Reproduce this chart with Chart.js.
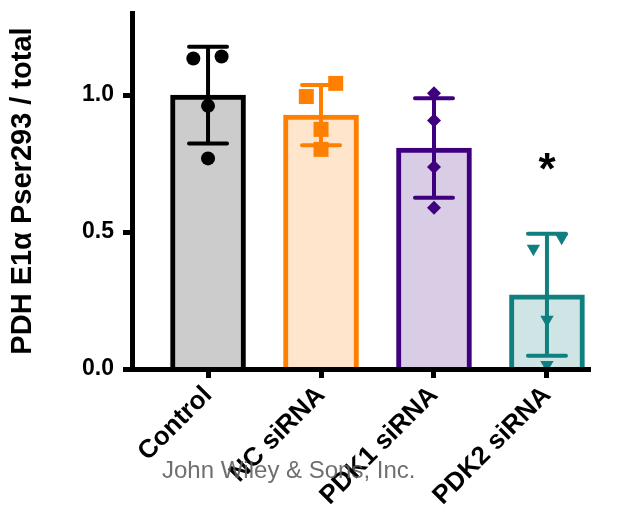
<!DOCTYPE html>
<html><head><meta charset="utf-8">
<script src="https://cdn.jsdelivr.net/npm/chart.js@4/dist/chart.umd.min.js"></script>
<style>html,body{margin:0;padding:0;background:#fff}#wrap{width:618px;height:514px;position:relative}</style>
</head><body><div id="wrap"><canvas id="c"></canvas></div>
<script>
// ---- data ----
const categories = ['Control', 'NC siRNA', 'PDK1 siRNA', 'PDK2 siRNA'];
const means = [1.00, 0.927, 0.807, 0.271];
const sds = [0.177, 0.110, 0.182, 0.223];
const controlPoints = [1.134, 1.141, 0.961, 0.769];
const ncPoints = [0.995, 1.043, 0.875, 0.802];
const pdk1Points = [1.007, 0.907, 0.738, 0.589];
const pdk2Points = [0.440, 0.480, 0.180, 0.015];
const pointSpread = [[-0.13, 0.12, 0, 0], [-0.13, 0.13, 0, 0], [0, 0, 0, 0], [-0.12, 0.13, 0, 0]];
const yTicks = [0, 0.5, 1.0];
const significance = ['', '', '', '*'];
const yTitle = 'PDH E1\u03b1 Pser293 / total';
const watermark = 'John Wiley & Sons, Inc.';

// ---- styles ----
const FONT = '"Liberation Sans", Arial, sans-serif';
const borders = ['#000000', '#FF8000', '#3F007F', '#107F7F'];
const fills = ['#CCCCCC', '#FFE5CC', '#D9CCE5', '#CFE5E5'];
const styles = [
  {pointStyle: 'circle', radius: 7, rotation: 0},
  {pointStyle: 'rect', radius: 10.6, rotation: 0},
  {pointStyle: 'rectRot', radius: 7, rotation: 0},
  {pointStyle: 'triangle', radius: 7.7, rotation: 180}
];
const groups = [controlPoints, ncPoints, pdk1Points, pdk2Points];

const overlay = {
  id: 'overlay',
  afterDatasetDraw(chart, args) {
    if (args.index !== 0) return;
    const ctx = chart.ctx, xs = chart.scales.x, ys = chart.scales.y;
    ctx.save();
    means.forEach((m, i) => {
      const x = xs.getPixelForValue(i);
      const yt = ys.getPixelForValue(m + sds[i]);
      const yb = ys.getPixelForValue(m - sds[i]);
      ctx.strokeStyle = borders[i];
      ctx.lineWidth = 4;
      ctx.lineCap = 'butt';
      ctx.beginPath(); ctx.moveTo(x, yt); ctx.lineTo(x, yb); ctx.stroke();
      ctx.lineCap = 'round';
      ctx.beginPath(); ctx.moveTo(x - 19, yt); ctx.lineTo(x + 19, yt);
      ctx.moveTo(x - 19, yb); ctx.lineTo(x + 19, yb); ctx.stroke();
    });
    ctx.restore();
  },
  afterDraw(chart) {
    const ctx = chart.ctx, xs = chart.scales.x, ys = chart.scales.y;
    ctx.save();
    ctx.fillStyle = '#000';
    ctx.font = 'bold 44px ' + FONT;
    ctx.textAlign = 'center';
    ctx.textBaseline = 'alphabetic';
    significance.forEach((s, i) => {
      if (!s) return;
      ctx.fillText(s, xs.getPixelForValue(i), ys.getPixelForValue(0.675));
    });
    ctx.font = '24px ' + FONT;
    ctx.fillStyle = 'rgba(95,95,95,0.9)';
    ctx.textAlign = 'left';
    ctx.fillText(watermark, 162, 478);
    ctx.restore();
  }
};

const datasets = [{
  type: 'bar',
  data: means.map((m, i) => ({x: i, y: m})),
  backgroundColor: fills,
  borderColor: borders,
  borderWidth: 5,
  borderSkipped: 'start',
  barThickness: 75,
  order: 2
}];
groups.forEach((g, gi) => {
  datasets.push({
    type: 'scatter',
    data: g.map((v, j) => ({x: gi + pointSpread[gi][j], y: v})),
    pointStyle: styles[gi].pointStyle,
    radius: styles[gi].radius,
    rotation: styles[gi].rotation,
    backgroundColor: borders[gi],
    borderColor: borders[gi],
    borderWidth: 0,
    clip: false,
    order: 1
  });
});

const yFont = {family: FONT, size: 23, weight: 'bold'};
const xFont = {family: FONT, size: 26, weight: 'bold'};
new Chart(document.getElementById('c'), {
  type: 'bar',
  data: {datasets},
  plugins: [overlay],
  options: {
    responsive: true,
    maintainAspectRatio: false,
    animation: false,
    events: [],
    layout: {padding: {left: 0, top: 13, right: 28, bottom: 0}},
    plugins: {legend: {display: false}, tooltip: {enabled: false}},
    scales: {
      x: {
        type: 'linear', min: -0.673, max: 3.381, offset: false,
        afterBuildTicks: s => { s.ticks = categories.map((c, i) => ({value: i})); },
        afterFit: s => { s.height = 145; s.paddingLeft = 0; s.paddingRight = 0; },
        ticks: {callback: v => categories[v] ?? '', autoSkip: false, minRotation: 45, maxRotation: 45,
                font: xFont, color: '#000', padding: 2},
        grid: {offset: false, drawOnChartArea: false, drawTicks: true, tickLength: 9, tickWidth: 5, tickColor: '#000'},
        border: {display: true, color: '#000', width: 5, z: 1}
      },
      y: {
        type: 'linear', min: 0, max: 1.3,
        afterBuildTicks: s => { s.ticks = yTicks.map(v => ({value: v})); },
        afterFit: s => { s.width = 132; s.paddingTop = 0; s.paddingBottom = 0; },
        ticks: {callback: v => Number(v).toFixed(1), font: yFont, color: '#000', padding: 9},
        grid: {offset: false, drawOnChartArea: false, drawTicks: true, tickLength: 9, tickWidth: 5, tickColor: '#000'},
        border: {display: true, color: '#000', width: 5, z: 1},
        title: {display: true, text: yTitle, color: '#000', font: {family: FONT, size: 29, weight: 'bold'},
                padding: {top: 6, bottom: 0}}
      }
    }
  }
});
</script></body></html>
